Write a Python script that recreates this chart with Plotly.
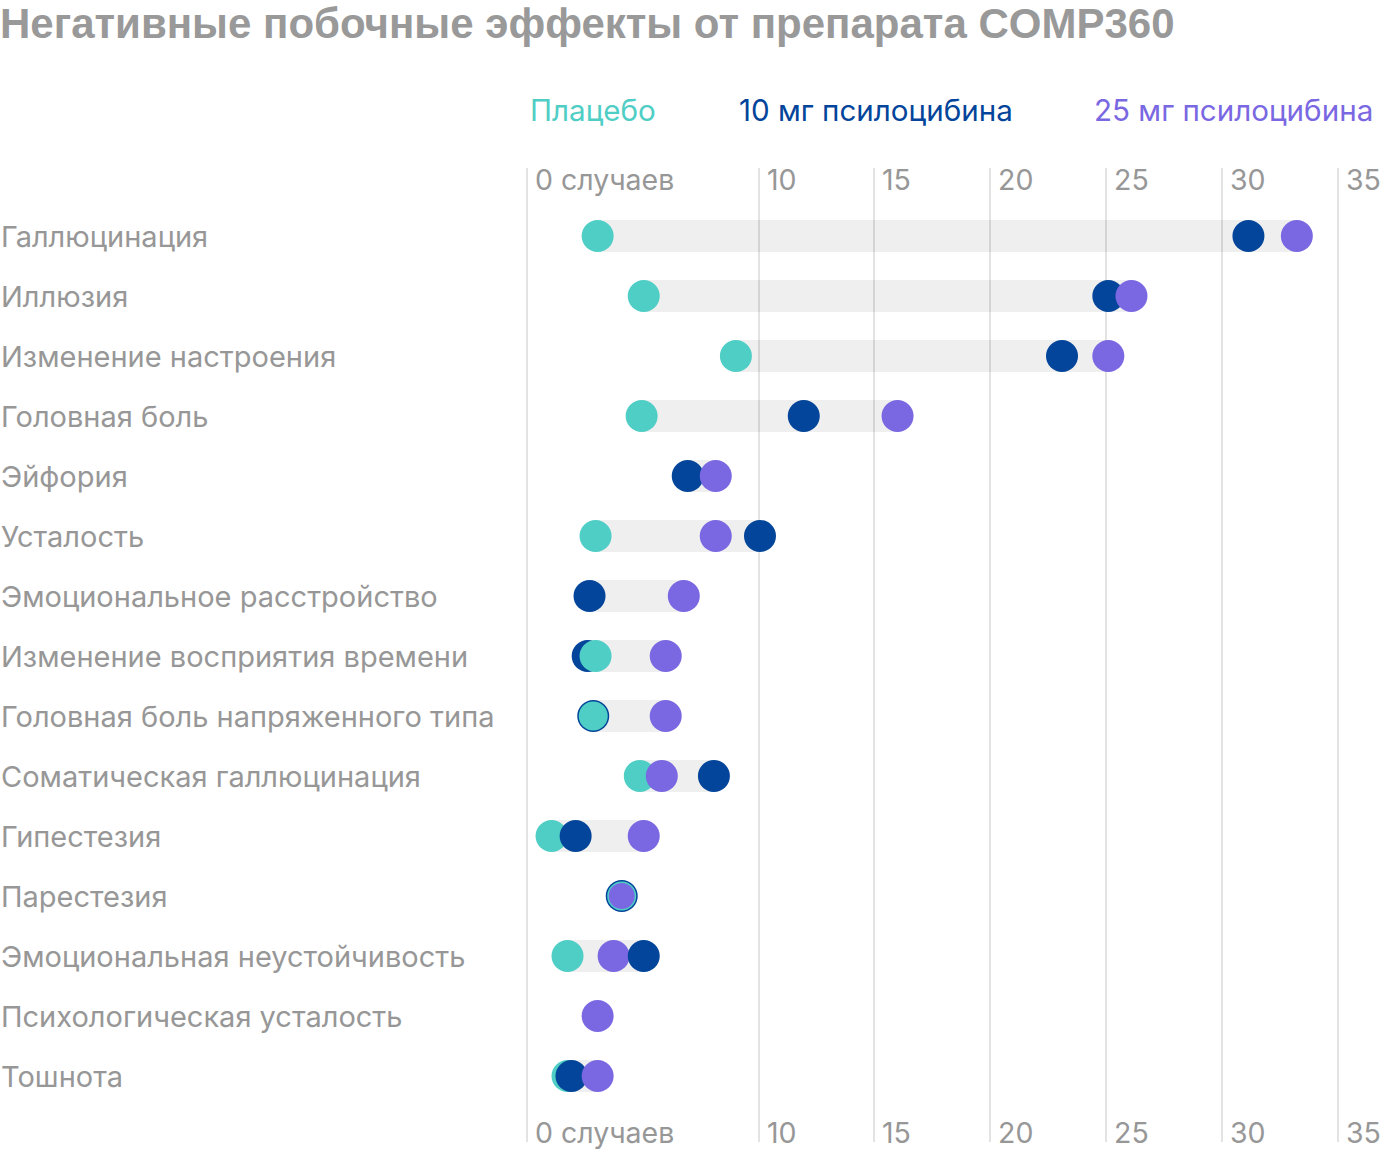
import plotly.graph_objects as go

# ---------------- data ----------------
categories = [
    "Галлюцинация", "Иллюзия", "Изменение настроения", "Головная боль", "Эйфория",
    "Усталость", "Эмоциональное расстройство", "Изменение восприятия времени",
    "Головная боль напряженного типа", "Соматическая галлюцинация", "Гипестезия",
    "Парестезия", "Эмоциональная неустойчивость", "Психологическая усталость", "Тошнота",
]
placebo = [3.05, 5.04, 9.02, 4.95, None, 2.96, None, 2.96, 2.86, 4.87, 1.06, 4.09, 1.75, None, 1.75]
dose10 = [31.15, 25.1, 23.1, 11.95, 6.94, 10.06, 2.70, 2.62, 2.86, 8.07, 2.10, 4.09, 5.04, None, 1.92]
dose25 = [33.24, 26.1, 25.1, 16.0, 8.15, 8.15, 6.77, 5.99, 5.99, 5.82, 5.04, 4.09, 3.74, 3.05, 3.05]

series_names = ["Плацебо", "10 мг псилоцибина", "25 мг псилоцибина"]
tick_values = [0, 10, 15, 20, 25, 30, 35]
tick_labels = ["0 случаев", "10", "15", "20", "25", "30", "35"]
title_text = "Негативные побочные эффекты от препарата COMP360"

# ---------------- styles ----------------
C_PLACEBO = "#4fcec5"
C_10 = "#03459a"
C_25 = "#7a68e2"
GRAY_TXT = "#979797"
FONT = "Inter, Roboto, sans-serif"

W, H = 1400, 1152
ML, MR, MT, MB = 527, 12, 168, 10
PX_PER_UNIT = 23.16
ROW_PX = 60
FIRST_ROW_PX = 236
plot_w = W - ML - MR
plot_h = H - MT - MB
x_max = plot_w / PX_PER_UNIT
y_top = -(FIRST_ROW_PX - MT) / ROW_PX
y_bot = y_top + plot_h / ROW_PX


def ypaper(px):
    return (H - MB - px) / plot_h


fig = go.Figure()

# range bars
bar_y, bar_base, bar_len = [], [], []
for i in range(len(categories)):
    vals = [v for v in (placebo[i], dose10[i], dose25[i]) if v is not None]
    if len(vals) >= 2 and max(vals) > min(vals):
        bar_y.append(i)
        bar_base.append(min(vals))
        bar_len.append(max(vals) - min(vals))
fig.add_trace(go.Bar(
    y=bar_y, x=bar_len, base=bar_base, orientation="h", width=32 / ROW_PX,
    marker=dict(color="rgba(0,0,0,0.063)", line=dict(width=0)),
    hoverinfo="skip", showlegend=False,
))

# dots: rightmost on top, ties shrink so the lower dot shows as a ring
px_, py_, pc_, ps_ = [], [], [], []
for i in range(len(categories)):
    pts = []
    for prio, (arr, col) in enumerate(((dose10, C_10), (placebo, C_PLACEBO), (dose25, C_25))):
        if arr[i] is not None:
            pts.append((arr[i], prio, col))
    pts.sort()
    prev_v, prev_s = None, None
    for v, _, col in pts:
        s = prev_s - 3 if (prev_v is not None and abs(v - prev_v) < 1e-9) else 32
        px_.append(v)
        py_.append(i)
        pc_.append(col)
        ps_.append(s)
        prev_v, prev_s = v, s
fig.add_trace(go.Scatter(
    x=px_, y=py_, mode="markers",
    marker=dict(color=pc_, size=ps_, line=dict(width=0), opacity=1),
    showlegend=False, cliponaxis=False,
))

annotations = []
# category labels
for i, name in enumerate(categories):
    annotations.append(dict(
        text=name, x=-ML / plot_w, xref="paper", y=i, yref="y",
        xanchor="left", yanchor="middle", showarrow=False, xshift=-1,
        font=dict(family=FONT, size=29, color=GRAY_TXT),
    ))
# tick labels top & bottom
for v, lab in zip(tick_values, tick_labels):
    for ypx in (180, 1132):
        annotations.append(dict(
            text=lab, x=v, xref="x", y=ypaper(ypx), yref="paper",
            xanchor="left", yanchor="middle", xshift=6, showarrow=False,
            font=dict(family=FONT, size=28.5, color=GRAY_TXT),
        ))
# legend labels
legend_pos = [(528, "left", C_PLACEBO), (737, "left", C_10), (1375, "right", C_25)]
for name, (xpx, anc, col) in zip(series_names, legend_pos):
    annotations.append(dict(
        text=name, x=(xpx - ML) / plot_w, xref="paper", y=ypaper(110), yref="paper",
        xanchor=anc, yanchor="middle", showarrow=False,
        font=dict(family=FONT, size=29.6, color=col),
    ))

fig.update_layout(
    width=W, height=H,
    margin=dict(l=ML, r=MR, t=MT, b=MB),
    paper_bgcolor="white", plot_bgcolor="white",
    barmode="overlay",
    title=dict(text=title_text, x=0, xref="container", xanchor="left",
               y=1 - 23 / H, yref="container", yanchor="middle",
               font=dict(family="Liberation Sans, Arial, sans-serif", size=42,
                         color="#999999", weight=700)),
    xaxis=dict(range=[0, x_max], tickvals=tick_values, showticklabels=False,
               showgrid=True, gridcolor="#e3e3e3", gridwidth=2,
               zeroline=True, zerolinecolor="#e3e3e3", zerolinewidth=2,
               showline=False, ticks="", fixedrange=True),
    yaxis=dict(range=[y_bot, y_top], showgrid=False, zeroline=False,
               showticklabels=False, showline=False, ticks="", fixedrange=True),
    annotations=annotations,
    showlegend=False,
)

fig.write_html("out.html", config={"displayModeBar": False},
               post_script="document.body.style.margin='0';")
